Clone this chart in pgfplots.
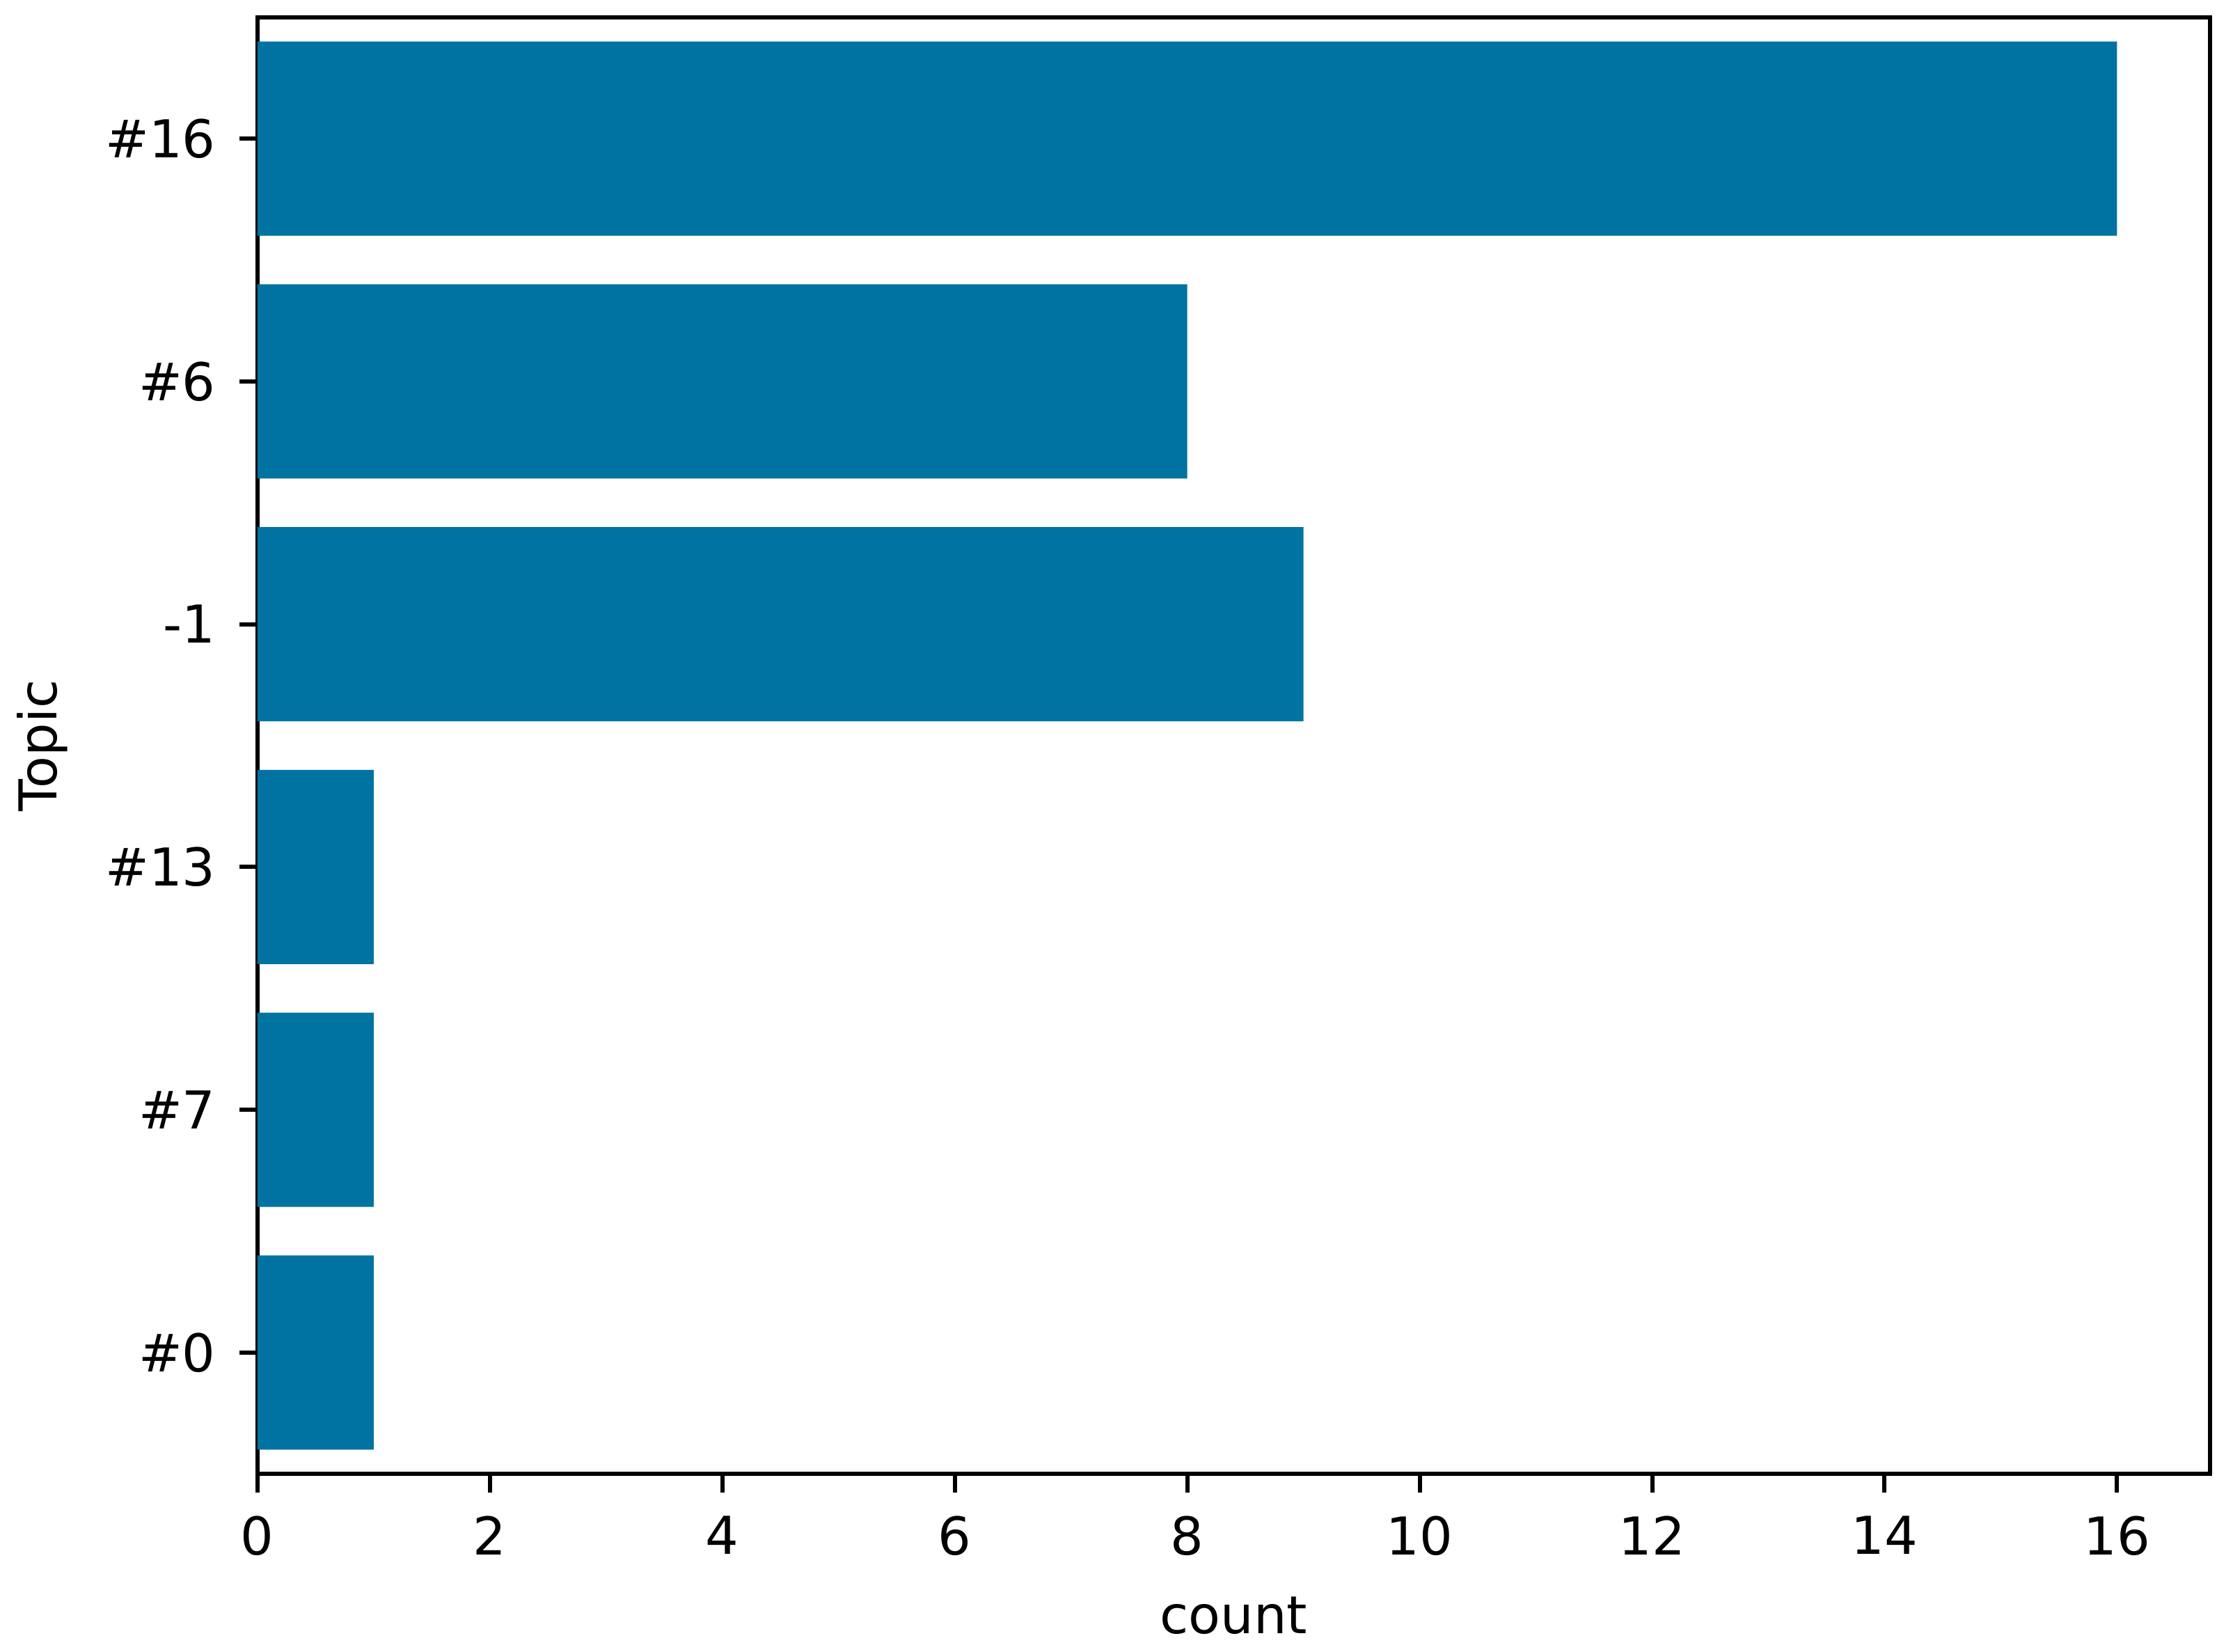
\documentclass[border=0pt]{standalone}
\usepackage{pgfplots}
\pgfplotsset{compat=1.18}
\usepackage{fontspec}
\setmainfont{DejaVu Sans}
\definecolor{barblue}{RGB}{1,115,163}
\begin{document}
\begin{tikzpicture}
\begin{axis}[name=ax, scale only axis,
  width=374pt, height=279pt,
  xbar, bar width=0.8,
  xmin=0, xmax=16.8,
  ymin=-0.5, ymax=5.5, y dir=reverse,
  ytick={0,1,2,3,4,5},
  yticklabels={\#16,\#6,-1,\#13,\#7,\#0},
  xtick={0,2,...,16},
  xtick pos=bottom, ytick pos=left,
  tick align=outside, major tick length=3.5pt,
  every tick/.style={black, line width=0.8pt},
  axis line style={line width=0.8pt},
  tick label style={font=\fontsize{10}{12}\selectfont},
  /pgf/number format/assume math mode=true,
  xticklabel style={yshift=-1pt},
  yticklabel style={xshift=-1pt},
  xlabel={count}, ylabel={Topic},
  label style={font=\fontsize{10}{12}\selectfont},
  xlabel style={at={(axis description cs:0.5,-0.097)}, anchor=center},
  ylabel style={at={(axis description cs:-0.110,0.5)}, anchor=center, rotate=0},
]
\addplot[fill=barblue, draw=none] coordinates {(16,0) (8,1) (9,2) (1,3) (1,4) (1,5)};
\end{axis}
\path ([shift={(-48.7pt,-33.7pt)}]ax.south west) rectangle ([shift={(4.4pt,3.3pt)}]ax.north east);
\end{tikzpicture}
\end{document}
